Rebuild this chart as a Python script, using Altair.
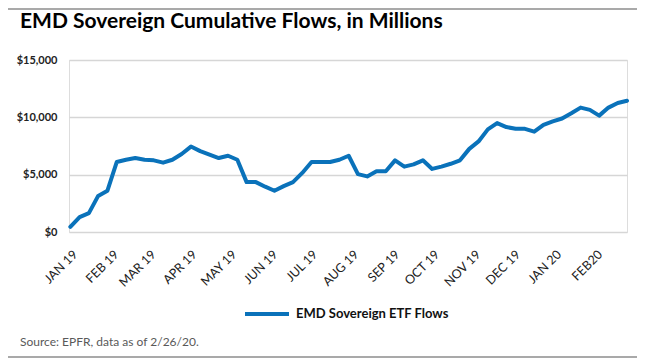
import altair as alt
import pandas as pd

TITLE = "EMD Sovereign Cumulative Flows, in Millions"
SOURCE = "Source: EPFR, data as of 2/26/20."
SERIES = "EMD Sovereign ETF Flows"

# weekly observations, Wednesdays 2019-01-02 .. 2020-02-26
dates = pd.date_range("2019-01-02", periods=61, freq="7D").strftime("%Y-%m-%dT00:00:00").tolist()
flows = [450, 1300, 1650, 3150, 3600, 6100, 6300, 6450, 6300, 6250,
         6050, 6300, 6800, 7450, 7050, 6750, 6450, 6650, 6300, 4350,
         4350, 3950, 3600, 4000, 4350, 5150, 6100, 6100, 6100, 6300,
         6650, 5050, 4850, 5300, 5300, 6250, 5700, 5900, 6250, 5500,
         5700, 5950, 6250, 7250, 7900, 8950, 9500, 9150, 9000, 9000,
         8750, 9350, 9650, 9900, 10350, 10850, 10650, 10150, 10850, 11250,
         11450]
y_ticks = [0, 5000, 10000, 15000]

FONT = "Lato"
BLUE = "#0a72ba"

df = pd.DataFrame({"date": dates, "flows": flows, "series": SERIES})

line = alt.Chart(df).mark_line(strokeWidth=4, color=BLUE, strokeJoin="round", strokeCap="round").encode(
    x=alt.X("date:T",
            scale=alt.Scale(domain=[alt.DateTime(year=2019, month=1, date=1),
                                    alt.DateTime(year=2020, month=2, date=26)]),
            axis=alt.Axis(title=None, grid=False, domain=False, ticks=False,
                          tickCount=alt.TimeIntervalStep(interval="month", step=1),
                          labelExpr="(month(datum.value)==1 && year(datum.value)==2020) ? 'FEB20' : upper(timeFormat(datum.value, '%b %y'))",
                          labelAngle=-45, labelAlign="right", labelBaseline="middle",
                          labelPadding=20, labelOffset=6, labelFont=FONT, labelFontSize=12.5,
                          labelColor="#222222", labelOverlap=False, labelFlush=False)),
    y=alt.Y("flows:Q",
            scale=alt.Scale(domain=[0, 15000], nice=False),
            axis=alt.Axis(title=None, values=y_ticks, format="$,.0f", domain=False, ticks=False,
                          gridColor="#d6d6d6", gridWidth=1.5, labelPadding=12,
                          labelFont=FONT, labelFontSize=11, labelFontWeight="bold",
                          labelColor="#222222")),
    color=alt.Color("series:N", scale=alt.Scale(range=[BLUE]),
                    legend=alt.Legend(orient="none", legendX=174, legendY=230, title=None,
                                      symbolType="stroke", symbolSize=1936, symbolStrokeWidth=4,
                                      labelFont=FONT, labelFontSize=13, labelFontWeight="bold",
                                      labelColor="#111111", labelOffset=5, padding=0)),
)

title = alt.Chart(pd.DataFrame({"t": [TITLE]})).mark_text(
    font=FONT, fontSize=21, fontWeight="bold", color="#000000", align="left", baseline="alphabetic"
).encode(text="t:N", x=alt.value(-49), y=alt.value(-32))

source = alt.Chart(pd.DataFrame({"t": [SOURCE]})).mark_text(
    font=FONT, fontSize=12, color="#595959", align="left", baseline="alphabetic"
).encode(text="t:N", x=alt.value(-49), y=alt.value(286))

border_bottom = alt.Chart(pd.DataFrame({"a": [0]})).mark_rule(color="#8c8c8c", strokeWidth=1.5).encode(
    x=alt.value(-61), x2=alt.value(568), y=alt.value(297))
border_top = alt.Chart(pd.DataFrame({"a": [0]})).mark_rule(color="#8c8c8c", strokeWidth=1.5).encode(
    x=alt.value(-61), x2=alt.value(568), y=alt.value(-51))

chart = alt.layer(line, title, source, border_bottom, border_top).properties(
    width=558, height=172,
    autosize=alt.AutoSizeParams(type="none"),
    padding={"left": 61, "top": 52, "right": 10, "bottom": 126},
).configure_view(stroke=None).configure(background="white")

chart.save("out.html", embed_options={"renderer": "svg", "actions": False})
